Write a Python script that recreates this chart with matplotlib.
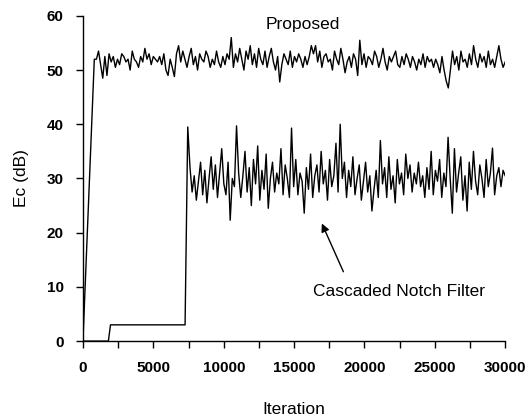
import numpy as np
import matplotlib
matplotlib.use("Agg")
import matplotlib.pyplot as plt
from matplotlib.ticker import MultipleLocator

plt.rcParams["font.family"] = ["Liberation Sans", "DejaVu Sans"]

# Proposed: start-up ramp, then noisy steady state
prop_ramp_x = [0, 800]
prop_ramp_y = [0.5, 52.0]
prop_noise = [
    52.0, 53.5, 51.0, 48.5, 52.5, 49.0, 53.0, 51.5, 52.5, 50.5,
    52.0, 51.0, 53.0, 52.5, 51.5, 52.0, 50.0, 53.5, 52.0, 51.5,
    50.5, 52.5, 51.5, 54.0, 52.0, 53.0, 51.0, 52.5, 52.0, 51.5,
    52.5, 51.0, 53.0, 50.0, 49.0, 52.0, 50.5, 48.8, 53.0, 54.5,
    51.5, 53.5, 52.0, 50.5, 52.5, 54.0, 51.0, 52.5, 50.0, 53.0,
    52.0, 51.5, 53.5, 52.5, 50.5, 52.0, 51.0, 53.5, 51.5, 50.5,
    52.5, 51.0, 53.0, 52.0, 56.0, 50.5, 53.0, 51.5, 54.0, 52.0,
    50.0, 53.5, 52.0, 54.5, 51.0, 53.0, 50.5, 54.0, 52.0, 51.0,
    53.5, 50.5, 52.5, 54.0, 51.5, 50.0, 52.5, 47.8, 51.0, 53.0,
    52.0, 51.0, 53.5, 50.5, 52.5, 51.5, 53.0, 52.0, 50.5, 52.5,
    51.0, 52.5, 54.5, 53.0, 54.5, 51.5, 53.5, 50.5, 52.5, 53.0,
    51.5, 52.0, 50.0, 53.5, 52.0, 51.0, 54.0, 52.0, 49.5, 51.5,
    52.5, 50.5, 53.0, 52.0, 49.0, 55.5, 51.0, 53.0, 50.5, 52.5,
    52.0, 51.0, 53.5, 52.5, 50.5, 52.0, 54.0, 51.5, 50.0, 52.5,
    51.5, 52.5, 53.5, 51.0, 50.5, 52.5, 51.0, 53.0, 52.0, 50.5,
    52.5, 51.5, 50.0, 52.0, 51.0, 53.0, 50.5, 52.5, 51.5, 52.0,
    50.5, 52.0, 51.0, 49.5, 52.5, 50.0, 48.0, 46.7, 50.0, 53.5,
    51.0, 52.5, 50.0, 53.5, 51.5, 52.0, 50.5, 53.0, 51.0, 54.5,
    52.0, 50.5, 53.0, 51.5, 52.5, 50.5, 53.5, 51.0, 52.0, 50.5,
    52.5, 54.5, 52.0, 50.5, 51.5,
]
prop_noise_start, prop_noise_end = 950, 30000

# Cascaded notch filter: flat start, step to 3 dB, jump, then noisy
casc_head_x = [0, 1800, 1950, 7250, 7440]
casc_head_y = [0.0, 0.0, 3.0, 3.0, 39.5]
casc_noise = [
    32.0, 27.5, 30.5, 26.0, 29.5, 33.0, 27.0, 31.5, 25.5, 30.0,
    34.0, 28.0, 32.5, 26.5, 31.0, 35.5, 29.0, 27.0, 33.0, 22.3,
    30.0, 28.5, 39.7, 31.0, 26.5, 30.5, 35.0, 27.5, 32.0, 25.0,
    33.5, 29.0, 36.0, 26.0, 31.5, 28.0, 34.5, 24.5, 30.0, 33.0,
    27.5, 31.0, 29.0, 35.5, 27.0, 32.5, 30.0, 26.5, 39.3, 28.5,
    33.5, 27.0, 31.0, 29.5, 23.6, 32.0, 28.0, 34.5, 26.5, 30.5,
    32.5, 27.5, 35.0, 29.0, 31.5, 26.0, 33.5, 28.5, 30.5, 36.5,
    27.5, 40.0, 30.0, 33.0, 26.5, 31.5, 28.5, 34.0, 27.0, 30.0,
    32.5, 26.0, 29.5, 33.0, 27.5, 30.5, 24.0, 28.0, 31.5, 26.5,
    37.0, 29.0, 32.0, 26.5, 34.0, 28.0, 30.5, 25.5, 33.5, 29.0,
    31.0, 27.0, 34.5, 30.0, 32.5, 27.5, 31.0, 29.0, 33.0, 28.5,
    30.5, 26.5, 32.0, 28.0, 35.0, 27.0, 31.5, 29.5, 33.5, 26.5,
    31.0, 28.5, 37.6, 30.0, 23.6, 35.5, 27.5, 31.0, 34.0, 26.0,
    30.5, 24.0, 33.0, 28.0, 35.0, 29.5, 27.0, 32.5, 30.0, 26.5,
    33.5, 28.5, 31.0, 35.6, 27.0, 30.5, 32.0, 28.5, 31.5, 30.5,
]
casc_noise_start, casc_noise_end = 7600, 30000

prop_x = np.concatenate([prop_ramp_x, np.linspace(prop_noise_start, prop_noise_end, len(prop_noise))])
prop_y = np.concatenate([prop_ramp_y, prop_noise])
casc_x = np.concatenate([casc_head_x, np.linspace(casc_noise_start, casc_noise_end, len(casc_noise))])
casc_y = np.concatenate([casc_head_y, casc_noise])

fig = plt.figure(figsize=(5.29, 4.17), dpi=100)
ax = fig.add_axes([0.157, 0.182, 0.798, 0.780])

ax.plot(prop_x, prop_y, color="black", lw=1.0)
ax.plot(casc_x, casc_y, color="black", lw=1.0)

ax.set_xlim(0, 30000)
ax.set_ylim(0, 60)
ax.xaxis.set_major_locator(MultipleLocator(5000))
ax.xaxis.set_minor_locator(MultipleLocator(2500))
ax.yaxis.set_major_locator(MultipleLocator(10))

for s in ("top", "right"):
    ax.spines[s].set_visible(False)
for s in ("left", "bottom"):
    ax.spines[s].set_linewidth(1.0)

ax.tick_params(axis="both", which="both", direction="out", length=5, width=1.0)
ax.tick_params(axis="x", pad=9)
ax.tick_params(axis="y", pad=9)
for lab in ax.get_xticklabels() + ax.get_yticklabels():
    lab.set_fontsize(11)
    lab.set_fontweight("bold")

ax.set_xlabel("Iteration", fontsize=12.5, labelpad=20)
ax.set_ylabel("Ec (dB)", fontsize=12.5, labelpad=13)

ax.text(15600, 58.4, "Proposed", fontsize=12.5, ha="center", va="center")
ax.text(22460, 9.2, "Cascaded Notch Filter", fontsize=12.5, ha="center", va="center")
ax.annotate("", xy=(16970, 21.7), xytext=(18500, 12.8),
            arrowprops=dict(arrowstyle="-|>", color="black", lw=1.0,
                            shrinkA=0, shrinkB=0, mutation_scale=12))

fig.savefig("out.png", dpi=100)
